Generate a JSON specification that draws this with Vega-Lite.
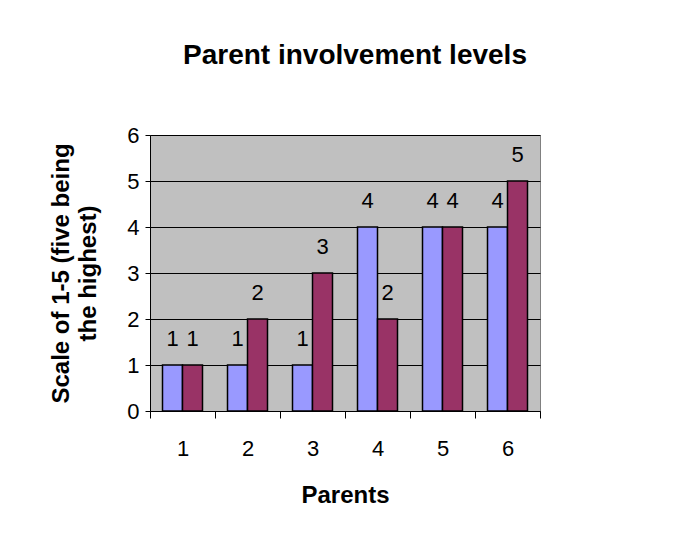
{
  "$schema": "https://vega.github.io/schema/vega-lite/v6.json",
  "autosize": {"type": "none"},
  "width": 390,
  "height": 276,
  "padding": {"left": 150, "top": 135, "right": 145, "bottom": 123},
  "background": "white",
  "title": {
    "text": "Parent involvement levels",
    "font": "Liberation Sans",
    "fontSize": 28,
    "fontWeight": "bold",
    "color": "black",
    "anchor": "middle",
    "frame": "group",
    "dx": 10,
    "offset": 54
  },
  "data": {
    "values": [
      {"parent": "1", "series": "A", "value": 1},
      {"parent": "1", "series": "B", "value": 1},
      {"parent": "2", "series": "A", "value": 1},
      {"parent": "2", "series": "B", "value": 2},
      {"parent": "3", "series": "A", "value": 1},
      {"parent": "3", "series": "B", "value": 3},
      {"parent": "4", "series": "A", "value": 4},
      {"parent": "4", "series": "B", "value": 2},
      {"parent": "5", "series": "A", "value": 4},
      {"parent": "5", "series": "B", "value": 4},
      {"parent": "6", "series": "A", "value": 4},
      {"parent": "6", "series": "B", "value": 5}
    ]
  },
  "encoding": {
    "x": {
      "field": "parent",
      "type": "nominal",
      "scale": {"paddingInner": 0, "paddingOuter": 0},
      "axis": {
        "title": "Parents",
        "titleFont": "Liberation Sans",
        "titleFontSize": 24,
        "titleFontWeight": "bold",
        "titleColor": "black",
        "titlePadding": 24,
        "labelAngle": 0,
        "labelFont": "Liberation Sans",
        "labelFontSize": 22,
        "labelColor": "black",
        "labelPadding": 20,
        "tickBand": "extent",
        "tickSize": 7,
        "tickColor": "black",
        "domainColor": "black",
        "grid": false
      }
    },
    "xOffset": {
      "field": "series",
      "type": "nominal",
      "scale": {"paddingInner": 0, "paddingOuter": 0.625}
    },
    "y": {
      "field": "value",
      "type": "quantitative",
      "scale": {"domain": [0, 6], "nice": false},
      "axis": {
        "values": [0, 1, 2, 3, 4, 5, 6],
        "title": ["Scale of 1-5 (five being", "the highest)"],
        "titleFont": "Liberation Sans",
        "titleFontSize": 24,
        "titleFontWeight": "bold",
        "titleColor": "black",
        "titleLineHeight": 27,
        "titlePadding": 26,
        "labelFont": "Liberation Sans",
        "labelFontSize": 22,
        "labelColor": "black",
        "labelPadding": 6,
        "tickSize": 5,
        "tickColor": "black",
        "domainColor": "black",
        "grid": true,
        "gridColor": "black",
        "gridWidth": 1
      }
    }
  },
  "layer": [
    {
      "mark": {"type": "bar", "stroke": "black", "strokeWidth": 1.5},
      "encoding": {
        "color": {
          "field": "series",
          "type": "nominal",
          "scale": {"domain": ["A", "B"], "range": ["#9999FF", "#993366"]},
          "legend": null
        }
      }
    },
    {
      "mark": {
        "type": "text",
        "baseline": "bottom",
        "dy": -14,
        "font": "Liberation Sans",
        "fontSize": 22,
        "color": "black"
      },
      "encoding": {"text": {"field": "value", "type": "quantitative"}}
    }
  ],
  "config": {
    "view": {"fill": "#C0C0C0", "stroke": "#808080", "strokeWidth": 1}
  }
}
